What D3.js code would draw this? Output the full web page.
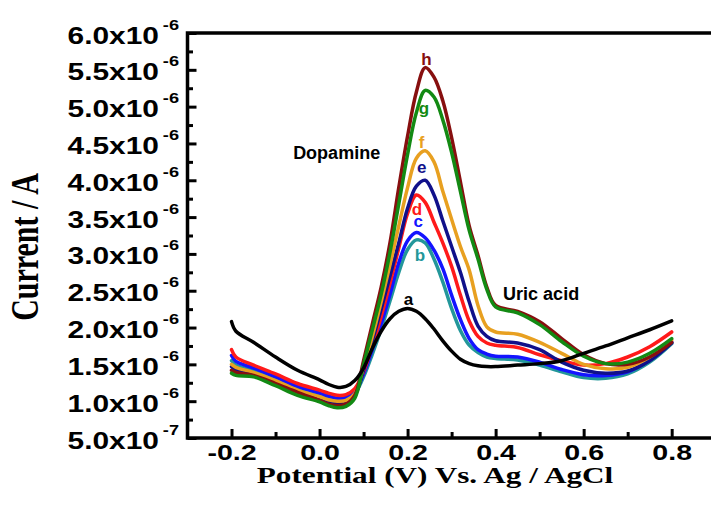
<!DOCTYPE html>
<html lang="en">
<head>
<meta charset="UTF-8">
<title>Dopamine / Uric acid DPV</title>
<script src="https://cdn.jsdelivr.net/npm/d3@7"></script>
<style>
   body { margin: 0; background: #fff; }
   #chart text { font-family: "Liberation Sans", Arial, sans-serif; font-weight: bold; }
   #chart .serif { font-family: "Liberation Serif", "Times New Roman", serif; }
   .domain { display: none; }
</style>
</head>
<body>
<div id="chart"></div>
<script>
// potential (V) sampled along the sweep
var potential = [-0.2, -0.19, -0.15, -0.1, -0.05, 0, 0.02, 0.04, 0.06, 0.08,
   0.10, 0.12, 0.14, 0.16, 0.18, 0.20, 0.22, 0.24, 0.26, 0.28, 0.30, 0.32, 0.34, 0.36, 0.38, 0.40,
   0.45, 0.50, 0.55, 0.60, 0.65, 0.70, 0.75, 0.80];

// current in µA for each curve a..h
var curA = [2.08, 1.95, 1.80, 1.60, 1.42, 1.29, 1.23, 1.19, 1.20, 1.28,
   1.45, 1.72, 1.95, 2.12, 2.22, 2.26, 2.22, 2.12, 1.98, 1.82, 1.68, 1.57, 1.51, 1.48, 1.47, 1.47,
   1.49, 1.51, 1.55, 1.65, 1.75, 1.86, 1.97, 2.09];
var curB = [1.55, 1.49, 1.41, 1.29, 1.16, 1.08, 1.04, 1.02, 1.03, 1.10,
   1.33, 1.64, 1.98, 2.36, 2.75, 3.06, 3.19, 3.15, 2.93, 2.62, 2.26, 1.96, 1.76, 1.66, 1.60, 1.58,
   1.56, 1.49, 1.40, 1.32, 1.31, 1.37, 1.53, 1.78];
var curC = [1.62, 1.54, 1.45, 1.33, 1.20, 1.11, 1.07, 1.04, 1.05, 1.13,
   1.37, 1.70, 2.05, 2.45, 2.88, 3.18, 3.29, 3.22, 3.05, 2.80, 2.44, 2.11, 1.85, 1.70, 1.64, 1.61,
   1.60, 1.53, 1.43, 1.36, 1.35, 1.40, 1.56, 1.80];
var curD = [1.70, 1.60, 1.49, 1.37, 1.24, 1.15, 1.11, 1.08, 1.09, 1.17,
   1.40, 1.76, 2.15, 2.60, 3.08, 3.55, 3.80, 3.70, 3.43, 3.15, 2.83, 2.44, 2.09, 1.88, 1.79, 1.76,
   1.73, 1.63, 1.55, 1.49, 1.51, 1.60, 1.74, 1.94];
var curE = [1.47, 1.43, 1.38, 1.26, 1.13, 1.04, 1.00, 0.98, 0.99, 1.08,
   1.42, 1.82, 2.25, 2.70, 3.15, 3.62, 3.92, 4.00, 3.80, 3.45, 3.10, 2.75, 2.35, 2.02, 1.88, 1.82,
   1.79, 1.70, 1.53, 1.42, 1.38, 1.41, 1.55, 1.79];
var curF = [1.50, 1.46, 1.39, 1.28, 1.15, 1.06, 1.02, 1.00, 1.01, 1.10,
   1.47, 1.88, 2.35, 2.85, 3.38, 3.90, 4.30, 4.40, 4.25, 3.85, 3.47, 3.10, 2.78, 2.30, 2.01, 1.94,
   1.91, 1.80, 1.65, 1.50, 1.44, 1.46, 1.60, 1.83];
var curG = [1.38, 1.35, 1.33, 1.21, 1.08, 0.99, 0.94, 0.91, 0.93, 1.04,
   1.50, 1.97, 2.45, 3.02, 3.68, 4.35, 4.92, 5.22, 5.13, 4.82, 4.38, 3.85, 3.32, 2.93, 2.52, 2.28,
   2.20, 2.04, 1.81, 1.61, 1.51, 1.53, 1.65, 1.85];
var curH = [1.42, 1.39, 1.35, 1.24, 1.12, 1.01, 0.96, 0.94, 0.96, 1.08,
   1.55, 2.05, 2.55, 3.15, 3.90, 4.60, 5.20, 5.53, 5.40, 5.08, 4.58, 3.98, 3.38, 2.98, 2.55, 2.30,
   2.22, 2.08, 1.85, 1.63, 1.51, 1.50, 1.60, 1.80];

var xMajor = [-0.2, 0.0, 0.2, 0.4, 0.6, 0.8];
var xMinor = [-0.1, 0.1, 0.3, 0.5, 0.7];
var yMajor = [5e-7, 1e-6, 1.5e-6, 2e-6, 2.5e-6, 3e-6, 3.5e-6, 4e-6, 4.5e-6, 5e-6, 5.5e-6, 6e-6];
var yMinor = [7.5e-7, 1.25e-6, 1.75e-6, 2.25e-6, 2.75e-6, 3.25e-6, 3.75e-6, 4.25e-6, 4.75e-6, 5.25e-6, 5.75e-6];

// curve name, colour, label position (in data units) in drawing order
var series = [
   { name: "b", vals: curB, color: "#23979a", lx: 0.228, ly: 2.90 },
   { name: "c", vals: curC, color: "#1414ff", lx: 0.224, ly: 3.36 },
   { name: "d", vals: curD, color: "#ff1a1a", lx: 0.221, ly: 3.53 },
   { name: "e", vals: curE, color: "#10108a", lx: 0.232, ly: 4.10 },
   { name: "f", vals: curF, color: "#e8a020", lx: 0.232, ly: 4.44 },
   { name: "h", vals: curH, color: "#870f0f", lx: 0.243, ly: 5.57 },
   { name: "g", vals: curG, color: "#138a13", lx: 0.237, ly: 4.90 },
   { name: "a", vals: curA, color: "#000000", lx: 0.202, ly: 2.31 }
];

var svg = d3.select("#chart").append("svg").attr("width", 711).attr("height", 506);

var x = d3.scaleLinear().domain([-0.3, 0.9]).range([187.5, 715.7]);
var y = d3.scaleLinear().domain([5e-7, 6e-6]).range([438, 33]);
var stretch = 1.3;

// frame (right edge falls just outside the picture)
svg.append("rect")
   .attr("x", x(-0.3)).attr("y", y(6e-6))
   .attr("width", x(0.9) - x(-0.3)).attr("height", y(5e-7) - y(6e-6))
   .attr("fill", "none").attr("stroke", "#000").attr("stroke-width", 3.5);

// x axis ticks (inward)
var gx = svg.append("g").attr("transform", "translate(0," + y(5e-7) + ")");
gx.append("g").call(d3.axisBottom(x).tickValues(xMinor).tickSize(-6).tickFormat(""));
gx.append("g").call(d3.axisBottom(x).tickValues(xMajor).tickSize(-9)
      .tickFormat(function (d) { return d.toFixed(1); }))
   .call(function (g) {
      g.selectAll("text")
         .attr("y", 22).attr("dy", null)
         .attr("fill", "#000")
         .style("font-size", "22px")
         .attr("transform", "scale(" + stretch + ",1)");
   });

// y axis ticks (inward)
var gy = svg.append("g").attr("transform", "translate(" + x(-0.3) + ",0)");
gy.append("g").call(d3.axisLeft(y).tickValues(yMinor).tickSize(-5.5).tickFormat(""));
gy.append("g").call(d3.axisLeft(y).tickValues(yMajor).tickSize(-9))
   .call(function (g) {
      g.selectAll("text").each(function (d) {
         var exp = Math.floor(Math.log10(d) + 1e-9);
         var mant = d / Math.pow(10, exp);
         var t = d3.select(this).text("")
            .attr("x", -8.5 / stretch).attr("y", 10).attr("dy", null)
            .attr("fill", "#000")
            .style("font-size", "23px")
            .attr("transform", "scale(" + stretch + ",1)");
         t.append("tspan").text(mant.toFixed(1) + "x10");
         t.append("tspan").attr("dx", 3).attr("dy", -14).style("font-size", "14px").text(exp);
      });
   });

svg.selectAll(".tick line").attr("stroke", "#000").attr("stroke-width", 3);

// curves
var line = d3.line()
   .x(function (d) { return x(d[0]); })
   .y(function (d) { return y(d[1] * 1e-6); })
   .curve(d3.curveCatmullRom.alpha(0.5));

svg.append("g").selectAll("path")
   .data(series)
   .enter().append("path")
   .attr("d", function (s) { return line(potential.map(function (p, i) { return [p, s.vals[i]]; })); })
   .attr("fill", "none")
   .attr("stroke", function (s) { return s.color; })
   .attr("stroke-width", 3.5)
   .attr("stroke-linejoin", "round")
   .attr("stroke-linecap", "round");

// curve letters
svg.append("g").selectAll("text")
   .data(series)
   .enter().append("text")
   .attr("x", function (s) { return x(s.lx); })
   .attr("y", function (s) { return y(s.ly * 1e-6); })
   .attr("text-anchor", "middle")
   .attr("fill", function (s) { return s.color; })
   .style("font-size", "17px")
   .text(function (s) { return s.name; });

// peak annotations
svg.append("text").attr("x", x(-0.06)).attr("y", y(4.29e-6))
   .style("font-size", "18px").attr("fill", "#000").text("Dopamine");
svg.append("text").attr("x", x(0.417)).attr("y", y(2.37e-6))
   .style("font-size", "18px").attr("fill", "#000").text("Uric acid");

// axis titles
svg.append("text").attr("class", "serif")
   .attr("transform", "translate(435,483) scale(" + stretch + ",1)")
   .attr("text-anchor", "middle")
   .style("font-size", "24px").attr("fill", "#000")
   .text("Potential (V) Vs. Ag / AgCl");

svg.append("text").attr("class", "serif")
   .attr("transform", "translate(38,247) scale(" + stretch + ",1) rotate(-90)")
   .attr("text-anchor", "middle")
   .style("font-size", "30px").attr("fill", "#000")
   .text("Current / A");
</script>
</body>
</html>
